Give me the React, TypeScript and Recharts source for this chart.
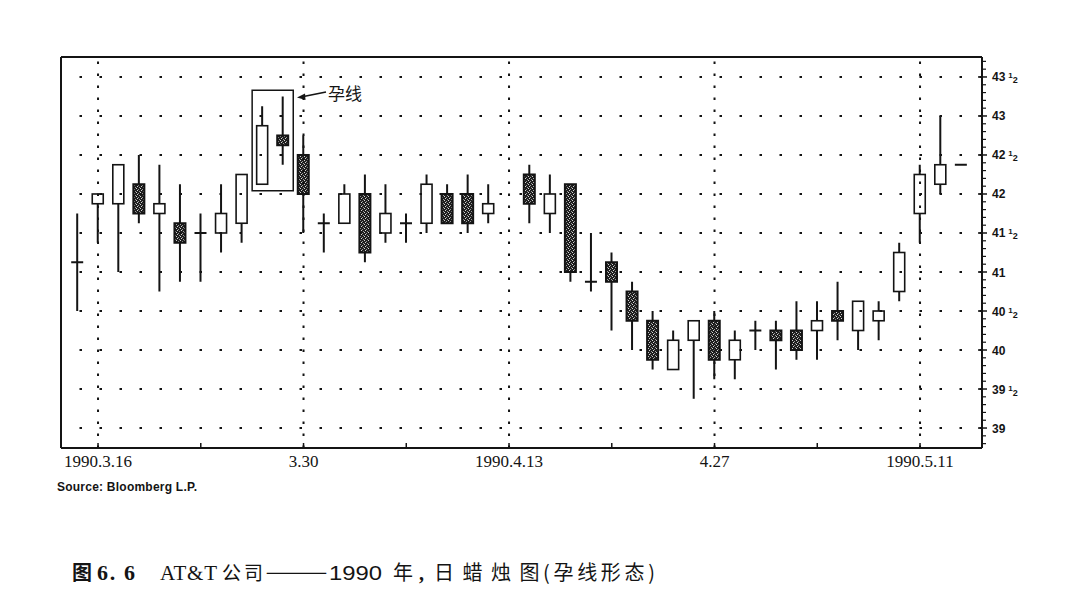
import React from "react";
import {
  ComposedChart,
  Bar,
  Line,
  XAxis,
  YAxis,
  ReferenceLine,
  ReferenceArea,
} from "recharts";

// trading days, 4.13 was Good Friday (no session)
const dates = [
  "3.15", "3.16", "3.19", "3.20", "3.21", "3.22", "3.23", "3.26", "3.27", "3.28", "3.29", "3.30",
  "4.2", "4.3", "4.4", "4.5", "4.6", "4.9", "4.10", "4.11", "4.12", "4.13",
  "4.16", "4.17", "4.18", "4.19", "4.20", "4.23", "4.24", "4.25", "4.26", "4.27", "4.30",
  "5.1", "5.2", "5.3", "5.4", "5.7", "5.8", "5.9", "5.10", "5.11", "5.14", "5.15",
];

const opens = [
  41.125, 41.875, 41.875, 42.125, 41.75, 41.625, 41.5, 41.5, 41.625, 42.125, 42.75, 42.5,
  41.625, 41.625, 42, 41.5, 41.625, 41.625, 42, 42, 41.75, null,
  42.25, 41.75, 42.125, 40.875, 41.125, 40.75, 40.375, 39.75, 40.125, 40.375, 39.875,
  40.25, 40.25, 40.25, 40.25, 40.5, 40.25, 40.375, 40.75, 41.75, 42.125, 42.375,
];
const highs = [
  41.75, 42, 42.375, 42.5, 42.375, 42.125, 41.75, 42.125, 42.25, 43.125, 43.25, 42.75,
  41.75, 42.125, 42.25, 42.125, 41.75, 42.25, 42.125, 42.25, 42.125, null,
  42.375, 42.25, 42.125, 41.5, 41.25, 40.875, 40.5, 40.25, 40.375, 40.5, 40.25,
  40.375, 40.375, 40.625, 40.625, 40.875, 40.625, 40.625, 41.375, 42.375, 43, 42.375,
];
const lows = [
  40.5, 41.375, 41, 41.625, 40.75, 40.875, 40.875, 41.25, 41.375, 42.125, 42.375, 41.5,
  41.25, 41.625, 41.125, 41.375, 41.375, 41.5, 41.625, 41.5, 41.625, null,
  41.625, 41.5, 40.875, 40.75, 40.25, 40, 39.75, 39.75, 39.375, 39.625, 39.625,
  40, 39.75, 39.875, 39.875, 40.125, 40, 40.125, 40.625, 41.375, 42, 42.375,
];
const closes = [
  41.125, 42, 42.375, 41.75, 41.875, 41.375, 41.5, 41.75, 42.25, 42.875, 42.625, 42,
  41.625, 42, 41.25, 41.75, 41.625, 42.125, 41.625, 41.625, 41.875, null,
  41.875, 42, 41, 40.875, 40.875, 40.375, 39.875, 40.125, 40.375, 39.875, 40.125,
  40.25, 40.125, 40, 40.375, 40.375, 40.625, 40.5, 41.25, 42.25, 42.375, 42.375,
];

const dateTicks = ["3.16", "3.30", "4.13", "4.27", "5.11"];
const dateTickLabels = ["1990.3.16", "3.30", "1990.4.13", "4.27", "1990.5.11"];
const weekTicks = ["3.23", "4.6", "4.20", "5.4"];

const priceTicks = [39, 39.5, 40, 40.5, 41, 41.5, 42, 42.5, 43, 43.5];
const priceLabels = ["39", "39½", "40", "40½", "41", "41½", "42", "42½", "43", "43½"];
const priceDomain = [38.744, 43.756];

// pattern box around the harami pair
const haramiFrom = "3.28";
const haramiTo = "3.29";
const haramiTop = 43.33;
const haramiBottom = 42.04;

const data = dates.map((date, i) => ({
  date,
  open: opens[i],
  high: highs[i],
  low: lows[i],
  close: closes[i],
}));

// minor ticks every 0.1 on the price scale
const minorTicks: number[] = [];
[38.5, ...priceTicks].forEach((p) => {
  for (let k = 1; k < 5; k++) {
    const v = Math.round((p + k * 0.1) * 10) / 10;
    if (v > priceDomain[0] && v < priceDomain[1] && !priceTicks.includes(v)) minorTicks.push(v);
  }
});
const allPriceTicks = [...priceTicks, ...minorTicks].sort((a, b) => a - b);

const INK = "#141414";

const Candle = (props: any) => {
  const { x, y, width, height, payload } = props;
  if (!payload || payload.open == null) return <g />;
  const { open, high, low, close } = payload;
  const cx = x + width / 2;
  const top = Math.min(y, y + height);
  const h = Math.abs(height);
  const span = high - low;
  const toY = (v: number) => (span > 0 ? top + ((high - v) / span) * h : top);
  const bodyTop = toY(Math.max(open, close));
  const bodyBottom = toY(Math.min(open, close));
  const up = close > open;
  return (
    <g>
      {span > 0 && (
        <line x1={cx} x2={cx} y1={top} y2={top + h} stroke={INK} strokeWidth={2} />
      )}
      {open === close ? (
        <line x1={cx - 6} x2={cx + 6} y1={bodyTop} y2={bodyTop} stroke={INK} strokeWidth={2} />
      ) : (
        <rect
          x={cx - 5.5}
          y={bodyTop}
          width={11}
          height={bodyBottom - bodyTop}
          fill={up ? "#fff" : "url(#stipple)"}
          stroke={INK}
          strokeWidth={up ? 1.6 : 2}
        />
      )}
    </g>
  );
};

const DateTick = (props: any) => {
  const { x, y, payload } = props;
  const i = dateTicks.indexOf(payload.value);
  if (i < 0 && !weekTicks.includes(payload.value)) return <g />;
  return (
    <g>
      <line x1={x} x2={x} y1={y - 5} y2={y} stroke={INK} strokeWidth={1.5} />
      {i >= 0 && (
        <text
          x={x}
          y={y + 19}
          textAnchor="middle"
          fontFamily="'Liberation Serif', serif"
          fontSize={17}
          fill={INK}
        >
          {dateTickLabels[i]}
        </text>
      )}
    </g>
  );
};

const PriceTick = (props: any) => {
  const { x, y, payload } = props;
  const i = priceTicks.indexOf(payload.value);
  if (i < 0) {
    return <line x1={x} x2={x + 4} y1={y} y2={y} stroke={INK} strokeWidth={1.2} />;
  }
  const label = priceLabels[i];
  const half = label.endsWith("½");
  return (
    <g>
      <line x1={x - 4} x2={x + 5} y1={y} y2={y} stroke={INK} strokeWidth={1.5} />
      <text
        x={x + 10}
        y={y + 4.5}
        fontFamily="'Liberation Sans', Arial, sans-serif"
        fontWeight={700}
        fontSize={12}
        fill={INK}
      >
        {label.replace("½", "")}
        {half && (
          <>
            <tspan dx={3} dy={-3} fontSize={8}>1</tspan>
            <tspan dy={5} fontSize={9}>2</tspan>
          </>
        )}
      </text>
    </g>
  );
};

export default function App() {
  return (
    <div style={{ position: "relative", width: 1055, height: 587 }}>
      <ComposedChart
        width={1040}
        height={470}
        data={data}
        margin={{ top: 48, right: 6, bottom: 0, left: 52 }}
      >
        <XAxis
          dataKey="date"
          type="category"
          interval={0}
          padding={{ left: 6.2, right: 10.6 }}
          height={30}
          tickSize={0}
          tickMargin={0}
          tickLine={false}
          axisLine={{ stroke: INK, strokeWidth: 2 }}
          tick={DateTick}
        />
        <XAxis
          xAxisId="top"
          dataKey="date"
          orientation="top"
          height={1}
          tick={false}
          tickLine={false}
          axisLine={{ stroke: INK, strokeWidth: 2 }}
        />
        <YAxis
          yAxisId="price"
          orientation="right"
          type="number"
          domain={priceDomain}
          allowDataOverflow
          ticks={allPriceTicks}
          interval={0}
          width={60}
          tickSize={0}
          tickMargin={0}
          tickLine={false}
          axisLine={{ stroke: INK, strokeWidth: 2 }}
          tick={PriceTick}
        />
        <YAxis
          yAxisId="frame"
          orientation="left"
          type="number"
          domain={priceDomain}
          allowDataOverflow
          width={1}
          tick={false}
          tickLine={false}
          axisLine={{ stroke: INK, strokeWidth: 2 }}
        />
        {priceTicks.map((p) => (
          <ReferenceLine
            key={`h${p}`}
            yAxisId="price"
            y={p}
            stroke={INK}
            strokeWidth={2}
            strokeDasharray="2.5 17.5"
          />
        ))}
        {dateTicks.map((d) => (
          <ReferenceLine
            key={`v${d}`}
            yAxisId="price"
            x={d}
            stroke={INK}
            strokeWidth={2}
            strokeDasharray="2.5 9.5"
          />
        ))}
        {/* top edge of the frame */}
        <ReferenceLine yAxisId="price" y={priceDomain[1]} stroke={INK} strokeWidth={2} ifOverflow="visible" />
        <ReferenceArea
          yAxisId="price"
          x1={haramiFrom}
          x2={haramiTo}
          y1={haramiBottom}
          y2={haramiTop}
          fill="none"
          stroke={INK}
          strokeWidth={1.5}
        />
        {/* empty series so the frame axes are drawn */}
        <Line
          xAxisId="top"
          yAxisId="frame"
          dataKey={() => null}
          stroke="none"
          dot={false}
          activeDot={false}
          legendType="none"
          isAnimationActive={false}
        />
        <Bar
          yAxisId="price"
          dataKey={(d: any) => (d.open == null ? null : [d.low, d.high])}
          barSize={12}
          shape={Candle}
          isAnimationActive={false}
        />
      </ComposedChart>
      <svg
        width={1055}
        height={587}
        style={{ position: "absolute", left: 0, top: 0, pointerEvents: "none" }}
      >
        <defs>
          <pattern id="stipple" width="4" height="4" patternUnits="userSpaceOnUse">
            <rect width="4" height="4" fill="#1e1e1e" />
            <rect x="0" y="0" width="1" height="1" fill="#d4d4d4" />
            <rect x="2" y="1" width="1" height="1" fill="#9a9a9a" />
            <rect x="1" y="2" width="1" height="1" fill="#d4d4d4" />
            <rect x="3" y="3" width="1" height="1" fill="#9a9a9a" />
          </pattern>
        </defs>
        {/* harami call-out */}
        <line x1={318} y1={84} x2={293} y2={89} stroke={INK} strokeWidth={1.6} />
        <polygon points="289,89.5 297,85.5 297.5,92" fill={INK} />
        <text x={320} y={92} fontFamily="'Noto Sans CJK SC', sans-serif" fontSize={17} fill={INK}>
          孕线
        </text>
        <text
          x={49}
          y={483}
          fontFamily="'Liberation Sans', Arial, sans-serif"
          fontWeight={700}
          fontSize={12}
          textLength={140}
          fill={INK}
        >
          Source: Bloomberg L.P.
        </text>
        {/* caption */}
        <g fill={INK}>
          <text x={64} y={572} fontFamily="'Noto Sans CJK SC', sans-serif" fontWeight={700} fontSize={20}>
            图
          </text>
          <text x={89} y={572} fontFamily="'Liberation Serif', serif" fontWeight={700} fontSize={22} textLength={38}>
            6. 6
          </text>
          <text x={152} y={572} fontFamily="'Liberation Serif', serif" fontSize={21} textLength={57}>
            AT&amp;T
          </text>
          <text x={214} y={572} fontFamily="'Noto Sans CJK SC', sans-serif" fontSize={19} letterSpacing={3}>
            公司
          </text>
          <text x={257} y={571} fontFamily="'Noto Sans CJK SC', sans-serif" fontSize={20} textLength={63} lengthAdjust="spacingAndGlyphs">
            ——
          </text>
          <text x={321} y={572} fontFamily="'Liberation Sans', sans-serif" fontSize={21} textLength={53} lengthAdjust="spacingAndGlyphs">
            1990
          </text>
          <text x={385} y={572} fontFamily="'Noto Sans CJK SC', sans-serif" fontSize={20}>
            年
          </text>
          <text x={411} y={572} fontFamily="'Liberation Serif', serif" fontWeight={700} fontSize={20}>
            ,
          </text>
          <text x={426} y={572} fontFamily="'Noto Sans CJK SC', sans-serif" fontSize={20} letterSpacing={8.5}>
            日蜡烛图
          </text>
          <text x={535} y={572} fontFamily="'Noto Sans CJK SC', sans-serif" fontSize={20} textLength={112}>
            (孕线形态)
          </text>
        </g>
      </svg>
    </div>
  );
}
